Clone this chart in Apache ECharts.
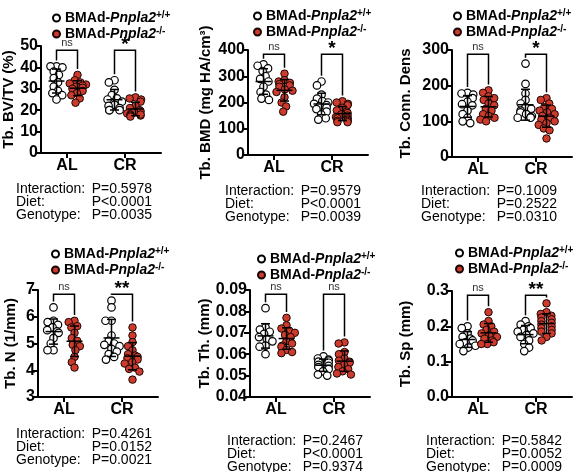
<!DOCTYPE html>
<html><head><meta charset="utf-8">
<script src="https://cdn.jsdelivr.net/npm/echarts@6/dist/echarts.min.js"></script>
<style>html,body{margin:0;padding:0;background:#fff}#c{width:584px;height:472px}</style>
</head><body><div id="c"></div>
<script>
// ---------- DATA ----------
const diets = ['AL', 'CR'];
const genotypes = ['BMAd-Pnpla2+/+', 'BMAd-Pnpla2-/-'];
const titles = ['Tb. BV/TV (%)', 'Tb. BMD (mg HA/cm³)', 'Tb. Conn. Dens', 'Tb. N (1/mm)', 'Tb. Th. (mm)', 'Tb. Sp (mm)'];
const yMin = [0, 0, 0, 3, 0.04, 0];
const yMax = [50, 400, 300, 7, 0.09, 0.3];
const yStep = [10, 100, 100, 1, 0.01, 0.1];
const yDecimals = [0, 0, 0, 0, 2, 1];
const sigAL = ['ns', 'ns', 'ns', 'ns', 'ns', 'ns'];
const sigCR = ['*', '*', '*', '**', 'ns', '**'];
const pInteraction = ['P=0.5978', 'P=0.9579', 'P=0.1009', 'P=0.4261', 'P=0.2467', 'P=0.5842'];
const pDiet = ['P<0.0001', 'P<0.0001', 'P=0.2522', 'P=0.0152', 'P<0.0001', 'P=0.0052'];
const pGenotype = ['P=0.0035', 'P=0.0039', 'P=0.0310', 'P=0.0021', 'P=0.9374', 'P=0.0009'];

const bvtv_AL_WT = [40.5, 40.5, 40, 38, 36.5, 35, 33, 31, 29, 28, 27, 25];
const bvtv_AL_KO = [36.5, 34, 33, 32.5, 32, 31.5, 31, 30.5, 30, 29, 28, 27, 25.5, 23.5];
const bvtv_CR_WT = [34, 33, 29.5, 27, 25.5, 25, 24, 22.5, 22, 21, 20, 20, 20];
const bvtv_CR_KO = [26, 25.5, 25, 24, 22, 21, 20, 19.5, 19, 18.5, 18, 17.5, 17.5, 17, 18];

const bmd_AL_WT = [345, 340, 330, 320, 300, 290, 280, 260, 240, 230, 215, 210];
const bmd_AL_KO = [310, 285, 280, 275, 270, 265, 260, 250, 245, 240, 220, 200, 185, 165];
const bmd_CR_WT = [280, 265, 230, 215, 205, 200, 195, 190, 185, 180, 175, 165, 155, 140, 135];
const bmd_CR_KO = [205, 200, 195, 190, 180, 170, 165, 160, 155, 150, 145, 140, 140, 135, 130, 130, 125, 125];

const conn_AL_WT = [180, 178, 175, 165, 155, 148, 145, 130, 120, 110, 100, 95];
const conn_AL_KO = [187, 180, 170, 165, 160, 150, 145, 135, 130, 120, 115, 110, 105, 100];
const conn_CR_WT = [262, 205, 178, 160, 150, 140, 135, 130, 125, 120, 115, 112, 110, 110];
const conn_CR_KO = [165, 160, 150, 140, 135, 130, 125, 120, 115, 110, 105, 100, 95, 90, 80, 75, 52];

const tbn_AL_WT = [6.35, 5.85, 5.8, 5.7, 5.6, 5.5, 5.45, 5.4, 5.2, 5.0, 4.75, 4.75];
const tbn_AL_KO = [5.85, 5.8, 5.65, 5.6, 5.4, 5.2, 5.1, 4.95, 4.9, 4.75, 4.5, 4.3, 4.1];
const tbn_CR_WT = [6.6, 6.35, 5.85, 5.85, 5.3, 5.1, 5.0, 4.95, 4.9, 4.8, 4.7, 4.6, 4.5, 4.4];
const tbn_CR_KO = [5.6, 5.3, 5.05, 4.9, 4.75, 4.6, 4.55, 4.5, 4.45, 4.4, 4.3, 4.25, 4.1, 4.05, 3.95, 3.65];

const tbth_AL_WT = [0.0815, 0.0725, 0.0715, 0.0705, 0.0695, 0.068, 0.067, 0.066, 0.064, 0.0635, 0.060];
const tbth_AL_KO = [0.077, 0.0735, 0.072, 0.071, 0.070, 0.069, 0.068, 0.066, 0.065, 0.064, 0.0635, 0.062, 0.061, 0.0605];
const tbth_CR_WT = [0.059, 0.058, 0.0575, 0.057, 0.0565, 0.056, 0.055, 0.0545, 0.054, 0.053, 0.052, 0.0505, 0.050];
const tbth_CR_KO = [0.0655, 0.065, 0.061, 0.060, 0.058, 0.057, 0.0565, 0.056, 0.055, 0.054, 0.053, 0.052, 0.051, 0.0505];

const tbsp_AL_WT = [0.20, 0.195, 0.18, 0.17, 0.165, 0.16, 0.155, 0.15, 0.145, 0.14, 0.13];
const tbsp_AL_KO = [0.24, 0.215, 0.205, 0.20, 0.19, 0.185, 0.18, 0.175, 0.17, 0.165, 0.16, 0.155, 0.15, 0.15];
const tbsp_CR_WT = [0.215, 0.205, 0.20, 0.195, 0.19, 0.185, 0.18, 0.175, 0.17, 0.16, 0.15, 0.14, 0.13];
const tbsp_CR_KO = [0.265, 0.24, 0.235, 0.23, 0.225, 0.22, 0.215, 0.21, 0.205, 0.20, 0.195, 0.19, 0.185, 0.18, 0.17, 0.16];

const panelData = [
  [bvtv_AL_WT, bvtv_AL_KO, bvtv_CR_WT, bvtv_CR_KO],
  [bmd_AL_WT, bmd_AL_KO, bmd_CR_WT, bmd_CR_KO],
  [conn_AL_WT, conn_AL_KO, conn_CR_WT, conn_CR_KO],
  [tbn_AL_WT, tbn_AL_KO, tbn_CR_WT, tbn_CR_KO],
  [tbth_AL_WT, tbth_AL_KO, tbth_CR_WT, tbth_CR_KO],
  [tbsp_AL_WT, tbsp_AL_KO, tbsp_CR_WT, tbsp_CR_KO]
];

// ---------- LAYOUT / STYLE ----------
const FONT = 'Arial, "Liberation Sans", Helvetica, sans-serif';
const XLEN = 120;           // x axis length in px (= data units)
const CAT_X = [26, 84];     // category centres along x axis
const OFF = 10.5;           // group offset from category centre
const DOT = 7.5;            // symbol size
const GAP = 6;              // min centre distance in swarm (dots may overlap slightly)
const MAXW = 8.5;           // max horizontal spread of swarm
const RED = '#cd3b2c';
const layout = [
  {ax: 41, top: 46, bot: 153, titleX: 10, legX: 52, legY: 10, statX: 16, statY: 182},
  {ax: 248, top: 50, bot: 155, titleX: 205, legX: 253, legY: 8, statX: 225, statY: 184},
  {ax: 452, top: 50, bot: 157, titleX: 405, legX: 453, legY: 8, statX: 421, statY: 184},
  {ax: 38, top: 290, bot: 397, titleX: 10, legX: 51, legY: 246, statX: 16, statY: 427},
  {ax: 250, top: 290, bot: 397, titleX: 205, legX: 257, legY: 251, statX: 227, statY: 434},
  {ax: 452, top: 291, bot: 397, titleX: 405, legX: 455, legY: 245, statX: 426, statY: 434}
];

function swarm(vals, cx, pxY, d) {
  const order = vals.map((v, i) => i).sort((a, b) => vals[b] - vals[a]);
  const placed = [], out = new Array(vals.length);
  for (const i of order) {
    const y = vals[i] * pxY;
    const cands = [0], blocks = [];
    for (const p of placed) {
      const dy = Math.abs(p.y - y);
      if (dy < d) {
        const w = Math.sqrt(d * d - dy * dy);
        blocks.push([p.x - w, p.x + w]);
        cands.push(p.x - w, p.x + w);
      }
    }
    cands.sort((a, b) => Math.abs(a) - Math.abs(b));
    let x = null;
    for (const c of cands) {
      if (Math.abs(c) <= MAXW && blocks.every(b => c <= b[0] + 1e-6 || c >= b[1] - 1e-6)) { x = c; break; }
    }
    if (x === null) { // no free slot inside the spread limit
      x = (placed.length % 2 ? 1 : -1) * MAXW * 0.6;
    }
    placed.push({x, y});
    out[i] = [cx + x, vals[i]];
  }
  return out;
}
const mean = a => a.reduce((s, v) => s + v, 0) / a.length;
const sd = a => { const m = mean(a); return Math.sqrt(a.reduce((s, v) => s + (v - m) * (v - m), 0) / (a.length - 1)); };

const grid = [], xAxis = [], yAxis = [], series = [], legend = [], graphic = [];

panelData.forEach((groups, k) => {
  const L = layout[k];
  const h = L.bot - L.top;
  const range = yMax[k] - yMin[k];
  const pxY = h / range;
  grid.push({left: L.ax, top: L.top, width: XLEN, height: h, outerBoundsMode: 'none', containLabel: false});
  xAxis.push({
    gridIndex: k, type: 'value', min: 0, max: XLEN,
    axisLine: {show: true, onZero: false, lineStyle: {color: '#000', width: 2}},
    splitLine: {show: false},
    axisTick: {show: true, customValues: CAT_X, length: 5, lineStyle: {color: '#000', width: 2}},
    axisLabel: {customValues: CAT_X, formatter: v => (v < (CAT_X[0] + CAT_X[1]) / 2 ? diets[0] : diets[1]),
      fontSize: 16, fontWeight: 'bold', color: '#000', fontFamily: FONT, margin: 5}
  });
  yAxis.push({
    gridIndex: k, type: 'value', min: yMin[k], max: yMax[k], interval: yStep[k],
    axisLine: {show: true, lineStyle: {color: '#000', width: 2}},
    axisTick: {show: true, length: 6, lineStyle: {color: '#000', width: 2}},
    splitLine: {show: false},
    axisLabel: {formatter: v => v.toFixed(yDecimals[k]), fontSize: 16, fontWeight: 'bold', color: '#000', fontFamily: FONT, margin: 3},
    name: titles[k], nameLocation: 'middle', nameRotate: 90, nameGap: L.ax - L.titleX - 8,
    nameTextStyle: {fontSize: 15, fontWeight: 'bold', color: '#000', fontFamily: FONT}
  });
  const cxs = [CAT_X[0] - OFF, CAT_X[0] + OFF, CAT_X[1] - OFF, CAT_X[1] + OFF];
  const pts = groups.map((g, gi) => swarm(g.map(v => v - yMin[k]), cxs[gi], pxY, GAP).map(p => [p[0], p[1] + yMin[k]]));
  series.push({
    type: 'scatter', name: genotypes[0], xAxisIndex: k, yAxisIndex: k, symbol: 'circle', symbolSize: DOT,
    itemStyle: {color: '#fff', borderColor: '#000', borderWidth: 1.2, opacity: 1}, data: pts[0].concat(pts[2]), z: 2, silent: true
  });
  series.push({
    type: 'scatter', name: genotypes[1], xAxisIndex: k, yAxisIndex: k, symbol: 'circle', symbolSize: DOT,
    itemStyle: {color: RED, borderColor: '#1a0505', borderWidth: 1, opacity: 1}, data: pts[1].concat(pts[3]), z: 2, silent: true
  });
  // error bars (mean ± SD)
  series.push({
    type: 'custom', xAxisIndex: k, yAxisIndex: k, z: 5, silent: true, clip: false,
    data: groups.map((g, gi) => [cxs[gi], mean(g), sd(g)]),
    renderItem: (params, api) => {
      const cx = api.value(0), m = api.value(1), s = api.value(2);
      const pm = api.coord([cx, m]), pt = api.coord([cx, m + s]), pb = api.coord([cx, m - s]);
      const st = {stroke: '#000', lineWidth: 1.5};
      return {type: 'group', children: [
        {type: 'line', shape: {x1: pm[0] - 8, y1: pm[1], x2: pm[0] + 8, y2: pm[1]}, style: st},
        {type: 'line', shape: {x1: pt[0], y1: pt[1], x2: pb[0], y2: pb[1]}, style: st},
        {type: 'line', shape: {x1: pt[0] - 4.5, y1: pt[1], x2: pt[0] + 4.5, y2: pt[1]}, style: st},
        {type: 'line', shape: {x1: pb[0] - 4.5, y1: pb[1], x2: pb[0] + 4.5, y2: pb[1]}, style: st}
      ]};
    }
  });
  // significance brackets
  const topY = yMin[k] + 0.96 * range;
  const legPad = 0.055 * range;
  const sigs = [sigAL[k], sigCR[k]];
  series.push({
    type: 'custom', xAxisIndex: k, yAxisIndex: k, z: 6, silent: true, clip: false,
    data: [0, 1].map(c => [cxs[2 * c], cxs[2 * c + 1], topY,
      Math.min(topY, Math.max(...groups[2 * c]) + legPad), Math.min(topY, Math.max(...groups[2 * c + 1]) + legPad)]),
    renderItem: (params, api) => {
      const a = api.coord([api.value(0), api.value(3)]);
      const b = api.coord([api.value(0), api.value(2)]);
      const c = api.coord([api.value(1), api.value(2)]);
      const d = api.coord([api.value(1), api.value(4)]);
      const lab = sigs[params.dataIndex];
      const star = lab !== 'ns';
      return {type: 'group', children: [
        {type: 'polyline', shape: {points: [a, b, c, d]}, style: {stroke: '#000', lineWidth: 1.5, fill: null}},
        {type: 'text', style: {text: lab, x: (b[0] + c[0]) / 2, y: star ? b[1] + 4 : b[1] - 2,
          align: 'center', verticalAlign: 'bottom', fontFamily: FONT,
          fontSize: star ? 19 : 11, fontWeight: star ? 'bold' : 'normal', fill: star ? '#000' : '#333'}}
      ]};
    }
  });
  legend.push({
    left: L.legX, top: L.legY, orient: 'vertical', itemGap: 1, itemWidth: 7, itemHeight: 7,
    icon: 'circle', selectedMode: false, data: genotypes, padding: 0,
    formatter: n => '{b|BMAd-}{i|Pnpla2}{s|' + n.slice(-3) + '}',
    textStyle: {fontFamily: FONT, color: '#000', rich: {
      b: {fontSize: 14, fontWeight: 'bold', fontFamily: FONT, color: '#000'},
      i: {fontSize: 14, fontWeight: 'bold', fontStyle: 'italic', fontFamily: FONT, color: '#000'},
      s: {fontSize: 10, fontWeight: 'bold', fontFamily: FONT, color: '#000', padding: [0, 0, 6, 0]}
    }}
  });
  const statRows = [['Interaction:', pInteraction[k]], ['Diet:', pDiet[k]], ['Genotype:', pGenotype[k]]];
  statRows.forEach((r, ri) => {
    graphic.push({
      type: 'text', left: L.statX, top: L.statY + ri * 13.3,
      style: {text: '{l|' + r[0] + '}{v|' + r[1] + '}', fontFamily: FONT, fontSize: 14, fill: '#000',
        rich: {l: {width: 75, fontSize: 14, fontFamily: FONT, color: '#000'},
               v: {width: 61, align: 'right', fontSize: 14, fontFamily: FONT, color: '#000'}}}
    });
  });
});

const chart = echarts.init(document.getElementById('c'), null, {renderer: 'canvas'});
chart.setOption({animation: false, backgroundColor: '#fff', grid, xAxis, yAxis, series, legend, graphic});
</script>
</body></html>
